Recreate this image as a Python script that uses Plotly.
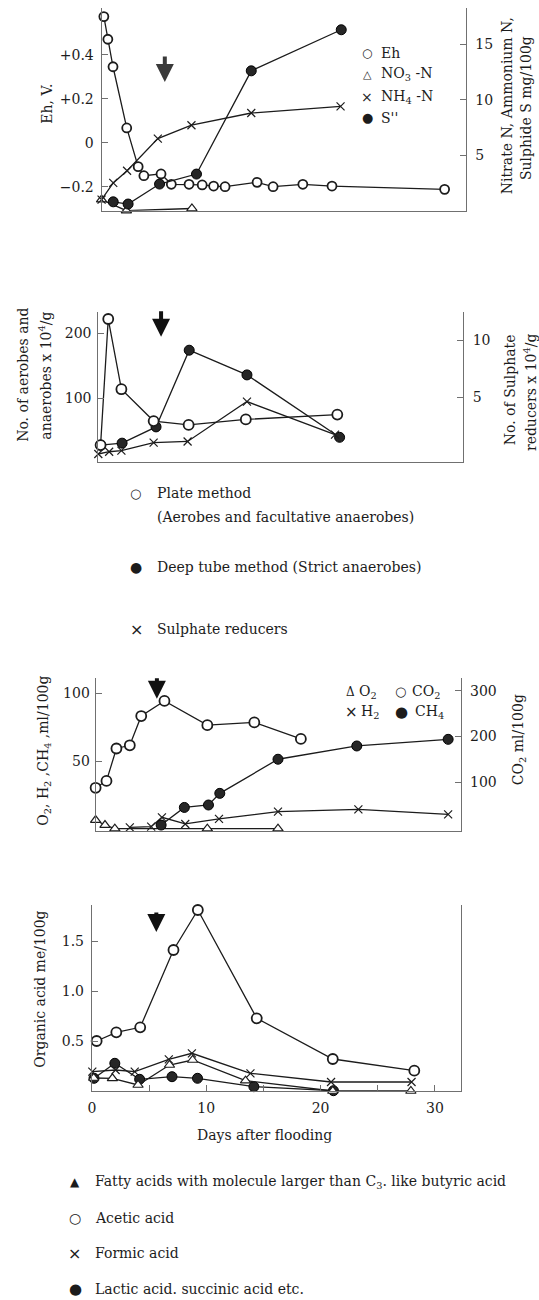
import plotly.graph_objects as go

W, H = 539, 1300
FONT = "DejaVu Serif, Liberation Serif, serif"
SYM = "DejaVu Sans, sans-serif"
INK = "#1c1c1c"
AX = "#707070"

# ---------------- Panel 1: Eh and nitrogen / sulphide ----------------
eh_day = [0.2, 0.55, 1.0, 2.2, 3.2, 3.7, 5.2, 6.1, 7.65, 8.8, 9.8, 10.8, 13.6, 15.0, 17.6, 20.15, 30.0]
eh_v = [0.573, 0.47, 0.345, 0.067, -0.109, -0.15, -0.142, -0.189, -0.189, -0.192, -0.197, -0.2,
        -0.18, -0.2, -0.189, -0.197, -0.212]
no3_day = [0, 2.17, 7.9]
no3_val = [1.0, 0.0, 0.2]
nh4_day = [0, 1.02, 2.23, 4.92, 7.86, 13.09, 20.9]
nh4_val = [1.0, 2.5, 3.6, 6.5, 7.7, 8.8, 9.4]
s_day = [1.02, 2.32, 5.07, 8.3, 13.09, 20.96]
s_val = [0.8, 0.6, 2.4, 3.3, 12.6, 16.3]

# ---------------- Panel 2: microbes ----------------
plate_day = [0.2, 0.87, 2.02, 4.84, 7.9, 12.9, 20.9]
plate_val = [28, 222, 114, 65, 59, 67.5, 75]
deep_day = [0.2, 2.08, 5.05, 7.95, 13.0, 21.1]
deep_val = [28, 31, 56, 174, 136, 40]
sr_day = [0, 0.95, 2.02, 4.84, 7.81, 13.0, 20.7]
sr_val = [0, 0.2, 0.3, 1.0, 1.1, 4.6, 1.7]

# ---------------- Panel 3: gases ----------------
co2_day = [0, 0.95, 1.82, 2.99, 3.99, 6.02, 9.77, 13.88, 17.95]
co2_val = [88, 103, 174, 181, 245, 278, 225, 231, 195]
ch4_day = [5.73, 7.76, 9.87, 10.86, 15.95, 22.84, 30.83]
ch4_val = [2.7, 15.7, 17.5, 26.1, 51.3, 61.1, 66]
h2_day = [2.99, 4.86, 5.8, 7.84, 10.79, 15.95, 22.98, 30.83]
h2_val = [1.0, 1.5, 8.4, 3.5, 7.2, 12.6, 14.3, 10.6]
o2_day = [0, 0.82, 1.68, 9.77, 15.95]
o2_val = [6.4, 2.7, 0, 0, 0]

# ---------------- Panel 4: organic acids ----------------
acetic_day = [0.42, 2.14, 4.23, 7.14, 9.27, 14.42, 21.07, 28.2]
acetic_val = [0.50, 0.587, 0.637, 1.41, 1.81, 0.727, 0.32, 0.203]
formic_day = [0.04, 2.08, 3.75, 6.73, 8.75, 13.87, 20.92, 27.96]
formic_val = [0.193, 0.21, 0.193, 0.317, 0.377, 0.177, 0.09, 0.09]
fatty_day = [0.16, 1.8, 4.04, 6.79, 8.81, 13.44, 21.07, 27.9]
fatty_val = [0.13, 0.127, 0.06, 0.26, 0.31, 0.103, 0.0, 0.0]
lactic_day = [0.19, 2.01, 4.18, 7.01, 9.24, 14.17, 21.13]
lactic_val = [0.127, 0.277, 0.117, 0.143, 0.127, 0.043, 0.003]

days_major = [0, 10, 20, 30]
days_minor = [5, 15, 25]


def xd(a, b):
    return [a / W, b / W]


def yd(top, bot):
    return [1 - bot / H, 1 - top / H]


LINE = dict(color=INK, width=1.3)


def open_circ(size=9):
    return dict(symbol="circle", size=size, color="white", line=dict(color=INK, width=1.8))


def filled(size=10):
    return dict(symbol="circle", size=size, color="#262626", line=dict(color="#000", width=1))


def cross(size=8):
    return dict(symbol="x-thin", size=size, color=INK, line=dict(color=INK, width=1.2))


def tri(size=9):
    return dict(symbol="triangle-up", size=size, color="white", line=dict(color=INK, width=1.2))


fig = go.Figure()


def add(x, y, marker, xa, ya, line=LINE):
    fig.add_trace(go.Scatter(x=x, y=y, mode="lines+markers", marker=marker, line=line,
                             xaxis=xa, yaxis=ya, showlegend=False, cliponaxis=False,
                             hoverinfo="skip"))


# panel 1
add(no3_day, no3_val, tri(), "x", "y2")
add(nh4_day, nh4_val, cross(), "x", "y2")
add(s_day, s_val, filled(10), "x", "y2")
add(eh_day, eh_v, open_circ(9), "x", "y")
# panel 2
add(sr_day, sr_val, cross(), "x2", "y4")
add(deep_day, deep_val, filled(10), "x2", "y3")
add(plate_day, plate_val, open_circ(10), "x2", "y3")
# panel 3
add(o2_day, o2_val, tri(), "x3", "y5")
add(h2_day, h2_val, cross(), "x3", "y5")
add(ch4_day, ch4_val, filled(10), "x3", "y5")
add(co2_day, co2_val, open_circ(10), "x3", "y6")
# panel 4
add(lactic_day, lactic_val, filled(10), "x4", "y7")
add(fatty_day, fatty_val, tri(), "x4", "y7")
add(formic_day, formic_val, cross(), "x4", "y7")
add(acetic_day, acetic_val, open_circ(10), "x4", "y7")

TF = dict(family=FONT, size=14, color=INK)
common = dict(showgrid=False, zeroline=False, showline=True, linecolor=AX, linewidth=1,
              tickcolor=AX, tickwidth=1, ticklen=6, ticks="inside", tickfont=TF, fixedrange=True)
xhide = dict(common, ticks="", showticklabels=False)

fig.update_layout(
    width=W, height=H, margin=dict(l=0, r=0, t=0, b=0),
    paper_bgcolor="white", plot_bgcolor="white",
    xaxis=dict(xhide, domain=xd(98.3, 465), range=[0, 31.83], anchor="y"),
    yaxis=dict(common, domain=yd(8, 210.7), range=[-0.309, 0.612], anchor="x",
               tickvals=[-0.2, 0, 0.2, 0.4], ticktext=["\u22120.2", "0", "+0.2", "+0.4"],
               ticklabelstandoff=4),
    yaxis2=dict(common, overlaying="y", side="right", anchor="x", range=[0, 18.26],
                tickvals=[5, 10, 15], ticktext=["5", "10", "15"], ticklabelstandoff=6),
    xaxis2=dict(xhide, domain=xd(95, 462.3), range=[0, 31.88], anchor="y3"),
    yaxis3=dict(common, domain=yd(312, 461.7), range=[2.46, 232.8], anchor="x2",
                tickvals=[100, 200], ticktext=["100", "200"], ticklabelstandoff=3),
    yaxis4=dict(common, overlaying="y3", side="right", anchor="x2", range=[-0.675, 12.46],
                tickvals=[5, 10], ticktext=["5", "10"], ticklabelstandoff=6),
    xaxis3=dict(xhide, domain=xd(92.3, 460.6), range=[0, 31.97], anchor="y5"),
    yaxis5=dict(common, domain=yd(678, 830.7), range=[-1.48, 111.3], anchor="x3",
                tickvals=[50, 100], ticktext=["50", "100"], ticklabelstandoff=2),
    yaxis6=dict(common, overlaying="y5", side="right", anchor="x3", range=[-5.9, 328.2],
                tickvals=[100, 200, 300], ticktext=["100", "200", "300"], ticklabelstandoff=5),
    xaxis4=dict(common, domain=xd(88.5, 460.6), range=[0, 32.3], anchor="y7",
                tickvals=days_major, ticktext=[str(d) for d in days_major], ticklabelstandoff=4,
                minor=dict(tickvals=days_minor, ticks="inside", ticklen=6, tickcolor=AX)),
    yaxis7=dict(common, domain=yd(905, 1091), range=[0, 1.86], anchor="x4", mirror=True,
                tickvals=[0.5, 1.0, 1.5], ticktext=["0.5", "1.0", "1.5"], ticklabelstandoff=4),
)

ann = []


def text(px, py, s, size=14, angle=0, xanchor="center", family=FONT):
    ann.append(dict(x=px / W, y=1 - py / H, xref="paper", yref="paper", text=s, showarrow=False,
                    textangle=angle, xanchor=xanchor, yanchor="middle",
                    font=dict(family=family, size=size, color=INK)))


# axis titles
text(43, 104, "Eh, V.", 14, -90)
text(507, 106, "Nitrate N, Ammonium N,", 14, -90)
text(526, 108, "Sulphide S mg/100g", 14, -90)
text(19, 375, "No. of aerobes and", 14, -90)
text(41, 376, "anaerobes x 10<sup>4</sup>/g", 14, -90)
text(510, 390, "No. of Sulphate", 14, -90)
text(530, 392, "reducers x 10<sup>4</sup>/g", 14, -90)
text(40, 751, "O<sub>2</sub>, H<sub>2</sub> ,CH<sub>4</sub> ,ml/100g", 14, -90)
text(519, 740, "CO<sub>2</sub> ml/100g", 14, -90)
text(36, 989, "Organic acid me/100g", 14, -90)
text(262, 1135, "Days after flooding", 14)

# panel-1 legend
text(366, 53, "\u25cb", 12, family=SYM)
text(378, 53, "Eh", 14, xanchor="left")
text(366, 74, "\u25b3", 11, family=SYM)
text(378, 74, "NO<sub>3</sub> -N", 14, xanchor="left")
text(366, 97, "\u00d7", 14, family=SYM)
text(378, 97, "NH<sub>4</sub> -N", 14, xanchor="left")
text(366, 118, "\u25cf", 13, family=SYM)
text(378, 118, "S''", 14, xanchor="left")

# panel-2 legend
text(132, 493, "\u25cb", 13, family=SYM)
text(152, 493, "Plate method", 14, xanchor="left")
text(152, 517, "(Aerobes and facultative anaerobes)", 14, xanchor="left")
text(133, 567, "\u25cf", 14, family=SYM)
text(152, 567, "Deep tube method (Strict anaerobes)", 14, xanchor="left")
text(133, 629, "\u00d7", 16, family=SYM)
text(152, 629, "Sulphate reducers", 14, xanchor="left")

# panel-3 legend
text(349, 692, "\u0394", 12, family=FONT)
text(356, 692, "O<sub>2</sub>", 14, xanchor="left")
text(399, 692, "\u25cb", 13, family=SYM)
text(409, 692, "CO<sub>2</sub>", 14, xanchor="left")
text(350, 712, "\u00d7", 15, family=SYM)
text(358, 712, "H<sub>2</sub>", 14, xanchor="left")
text(400, 712, "\u25cf", 15, family=SYM)
text(412, 712, "CH<sub>4</sub>", 14, xanchor="left")

# bottom legend
text(72, 1182, "\u25b2", 12, family=SYM)
text(90, 1182, "Fatty acids with molecule larger than C<sub>3</sub>. like butyric acid", 14, xanchor="left")
text(72, 1218, "\u25cb", 14, family=SYM)
text(90, 1218, "Acetic acid", 14, xanchor="left")
text(71, 1253, "\u00d7", 16, family=SYM)
text(90, 1253, "Formic acid", 14, xanchor="left")
text(72, 1289, "\u25cf", 15, family=SYM)
text(90, 1289, "Lactic acid. succinic acid etc.", 14, xanchor="left")

# arrows (time of transition) in data coordinates
arrows = [("x", "y", 5.53, 0.276, -27, "#3a3a3a"),
          ("x2", "y3", 5.49, 194.8, -27, "#111"),
          ("x3", "y5", 5.36, 96.0, -22, "#111"),
          ("x4", "y7", 5.64, 1.59, -21, "#111")]
for xr, yr, xv, yv, ay, col in arrows:
    ann.append(dict(x=xv, y=yv, xref=xr, yref=yr, ax=0, ay=ay, text="", showarrow=True,
                    arrowhead=2, arrowsize=0.9, arrowwidth=4, arrowcolor=col))

fig.update_layout(annotations=ann)
fig.write_html("out.html")
